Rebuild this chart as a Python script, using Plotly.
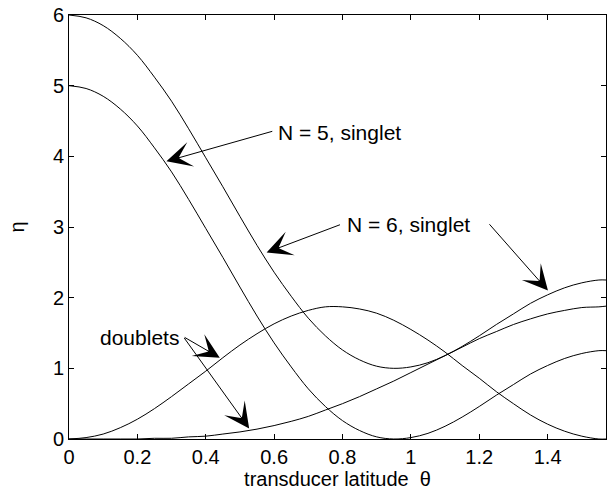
import plotly.graph_objects as go

# transducer latitude theta (rad), 0 .. pi/2
theta = [0.00, 0.05, 0.10, 0.15, 0.20, 0.25, 0.30, 0.35, 0.40, 0.45,
         0.50, 0.55, 0.60, 0.65, 0.70, 0.75, 0.80, 0.85, 0.90, 0.95,
         1.00, 1.05, 1.10, 1.15, 1.20, 1.25, 1.30, 1.35, 1.40, 1.45,
         1.50, 1.55, 1.5708]

# N = 5, singlet
eta_n5 = [5.00, 4.96, 4.85, 4.67, 4.43, 4.12, 3.78, 3.39, 2.98, 2.57,
          2.15, 1.74, 1.36, 1.02, 0.71, 0.46, 0.26, 0.12, 0.03, 0.00,
          0.02, 0.08, 0.18, 0.31, 0.46, 0.62, 0.77, 0.92, 1.04, 1.14,
          1.21, 1.25, 1.25]

# N = 6, singlet
eta_n6 = [6.00, 5.96, 5.85, 5.67, 5.43, 5.12, 4.78, 4.39, 3.98, 3.57,
          3.15, 2.74, 2.36, 2.02, 1.71, 1.46, 1.26, 1.12, 1.03, 1.00,
          1.02, 1.08, 1.18, 1.31, 1.46, 1.62, 1.77, 1.92, 2.04, 2.14,
          2.21, 2.25, 2.25]

# doublets
eta_doublet_a = [0.00, 0.02, 0.07, 0.16, 0.28, 0.43, 0.60, 0.78, 0.96, 1.15,
                 1.33, 1.49, 1.63, 1.74, 1.82, 1.87, 1.87, 1.84, 1.78, 1.68,
                 1.55, 1.40, 1.23, 1.04, 0.86, 0.67, 0.50, 0.34, 0.21, 0.11,
                 0.04, 0.00, 0.00]

eta_doublet_b = [0.00, 0.00, 0.00, 0.00, 0.00, 0.01, 0.01, 0.03, 0.04, 0.07,
                 0.10, 0.14, 0.19, 0.25, 0.32, 0.41, 0.50, 0.60, 0.71, 0.82,
                 0.94, 1.06, 1.18, 1.30, 1.42, 1.52, 1.62, 1.70, 1.77, 1.82,
                 1.86, 1.87, 1.88]

x_ticks = [0, 0.2, 0.4, 0.6, 0.8, 1.0, 1.2, 1.4]
x_tick_labels = ["0", "0.2", "0.4", "0.6", "0.8", "1", "1.2", "1.4"]
y_ticks = [0, 1, 2, 3, 4, 5, 6]

FONT = "Liberation Sans, Arial, Helvetica, sans-serif"

fig = go.Figure()
for ys in (eta_n5, eta_n6, eta_doublet_a, eta_doublet_b):
    fig.add_trace(go.Scatter(
        x=theta, y=ys, mode="lines",
        line=dict(color="black", width=1, shape="spline"),
        showlegend=False, hoverinfo="skip"))

# (label, text x, text y, anchor, [(tail x, tail y, tip x, tip y), ...])
labels = [
    ("N = 5, singlet", 0.605, 4.34, "left", [(0.599, 4.36, 0.285, 3.93)]),
    ("N = 6, singlet", 0.807, 3.03, "left", [(0.797, 3.04, 0.578, 2.64),
                                              (1.226, 3.06, 1.401, 2.10)]),
    ("doublets", 0.327, 1.43, "right", [(0.334, 1.45, 0.441, 1.15),
                                        (0.334, 1.45, 0.527, 0.15)]),
]

annotations = []
for text, tx, ty, anchor, arrows in labels:
    annotations.append(dict(
        x=tx, y=ty, xref="x", yref="y", text=text, showarrow=False,
        xanchor=anchor, yanchor="middle",
        font=dict(family=FONT, size=21, color="black")))
    for ax, ay, hx, hy in arrows:
        annotations.append(dict(
            x=hx, y=hy, ax=ax, ay=ay, xref="x", yref="y",
            axref="x", ayref="y", text="", showarrow=True,
            arrowhead=3, arrowsize=4.2, arrowwidth=1, arrowcolor="black",
            standoff=0, startstandoff=0))

fig.update_layout(
    width=608, height=490,
    margin=dict(l=69, r=2, t=15, b=51),
    paper_bgcolor="white", plot_bgcolor="white",
    font=dict(family=FONT, size=20, color="black"),
    annotations=annotations,
    xaxis=dict(
        range=[0, 1.5708], tickvals=x_ticks, ticktext=x_tick_labels,
        ticks="inside", ticklen=5, tickwidth=1, tickcolor="black",
        showline=True, linecolor="black", linewidth=1, mirror="ticks",
        showgrid=False, zeroline=False,
        title=dict(text="transducer latitude\u00a0\u00a0θ",
                   font=dict(size=20), standoff=2)),
    yaxis=dict(
        range=[0, 6], tickvals=y_ticks,
        ticks="inside", ticklen=5, tickwidth=1, tickcolor="black",
        showline=True, linecolor="black", linewidth=1, mirror="ticks",
        showgrid=False, zeroline=False,
        title=dict(text="η", font=dict(size=20), standoff=22)),
)

fig.write_html("out.html")
